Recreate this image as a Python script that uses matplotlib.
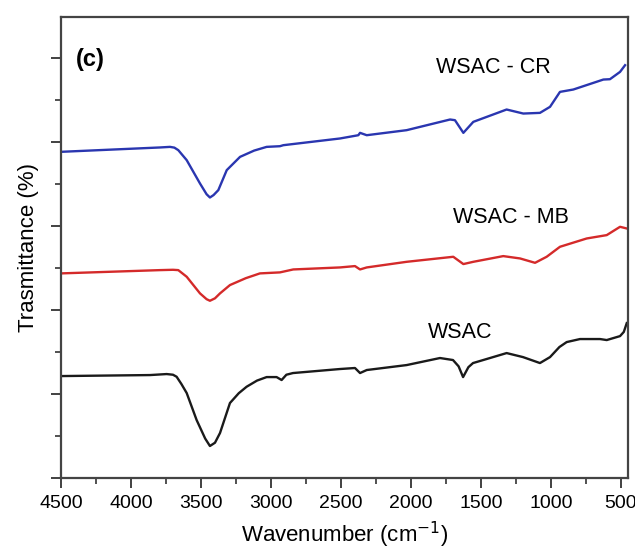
import numpy as np
import matplotlib.pyplot as plt
from matplotlib.ticker import MultipleLocator, NullFormatter

plt.rcParams['font.family'] = ['Liberation Sans', 'DejaVu Sans']

# spectra (wavenumber, offset transmittance)
wsac_w = [4500, 3864, 3745, 3700, 3674, 3640, 3602, 3531, 3470, 3436, 3400, 3364, 3293,
          3230, 3174, 3100, 3031, 2960, 2924, 2890, 2843, 2507, 2400, 2364, 2316, 2031,
          1793, 1700, 1660, 1628, 1590, 1557, 1460, 1317, 1200, 1079, 1007, 940, 888,
          793, 650, 602, 507, 480, 459]
wsac_t = [1.214, 1.226, 1.238, 1.230, 1.206, 1.120, 1.012, 0.690, 0.470, 0.381, 0.420, 0.536, 0.893,
          1.010, 1.087, 1.160, 1.202, 1.202, 1.167, 1.230, 1.250, 1.298, 1.310, 1.250, 1.286, 1.345,
          1.429, 1.405, 1.330, 1.202, 1.320, 1.369, 1.417, 1.488, 1.440, 1.369, 1.440, 1.560, 1.619,
          1.655, 1.655, 1.643, 1.690, 1.740, 1.845]

mb_w = [4500, 3793, 3700, 3662, 3602, 3507, 3460, 3436, 3400, 3364, 3293, 3180, 3079,
        2936, 2841, 2507, 2400, 2364, 2316, 2031, 1698, 1626, 1555, 1341, 1221, 1114,
        1031, 936, 745, 602, 507, 459]
mb_t = [2.437, 2.476, 2.480, 2.476, 2.397, 2.199, 2.130, 2.111, 2.140, 2.199, 2.298, 2.380, 2.437,
        2.449, 2.484, 2.508, 2.524, 2.484, 2.508, 2.575, 2.635, 2.548, 2.575, 2.643, 2.615, 2.563,
        2.635, 2.754, 2.853, 2.893, 2.992, 2.972]

cr_w = [4500, 3793, 3721, 3690, 3662, 3602, 3507, 3460, 3436, 3410, 3376, 3316, 3221,
        3120, 3031, 2936, 2912, 2507, 2376, 2364, 2316, 2031, 1721, 1686, 1626, 1555,
        1317, 1198, 1079, 1007, 936, 841, 626, 579, 507, 471]
cr_t = [3.885, 3.937, 3.944, 3.935, 3.905, 3.786, 3.508, 3.380, 3.341, 3.370, 3.429, 3.667, 3.825,
        3.900, 3.944, 3.952, 3.964, 4.044, 4.083, 4.111, 4.083, 4.143, 4.270, 4.262, 4.111, 4.242,
        4.389, 4.341, 4.349, 4.421, 4.599, 4.627, 4.746, 4.750, 4.837, 4.917]

fig = plt.figure(figsize=(6.35, 5.51), dpi=100)
ax = fig.add_axes([0.096, 0.1325, 0.893, 0.8365])

ax.plot(wsac_w, wsac_t, color='#1a1a1a', lw=1.7)
ax.plot(mb_w, mb_t, color='#d42a2a', lw=1.7)
ax.plot(cr_w, cr_t, color='#2a36b0', lw=1.7)

ax.set_xlim(4500, 450)
ax.set_ylim(0, 5.49)

ax.xaxis.set_major_locator(MultipleLocator(500))
ax.xaxis.set_minor_locator(MultipleLocator(250))
ax.yaxis.set_major_locator(MultipleLocator(1))
ax.yaxis.set_minor_locator(MultipleLocator(0.5))
ax.yaxis.set_major_formatter(NullFormatter())

ax.tick_params(axis='both', which='major', direction='out', length=7, width=1.3,
               color='#333333', labelsize=14, top=False, right=False)
ax.tick_params(axis='both', which='minor', direction='out', length=4, width=1.2,
               color='#333333', top=False, right=False)
ax.tick_params(axis='x', pad=5)

for sp in ax.spines.values():
    sp.set_linewidth(1.6)
    sp.set_color('#444444')

ax.set_xlabel('Wavenumber (cm$^{-1}$)', fontsize=16, labelpad=6)
ax.set_ylabel('Trasmittance (%)', fontsize=16, labelpad=5)

ax.text(0.027, 0.909, '(c)', transform=ax.transAxes, fontsize=17,
        fontweight='bold', va='center', ha='left')
ax.text(1414, 4.89, 'WSAC - CR', fontsize=15.5, ha='center', va='center')
ax.text(1286, 3.10, 'WSAC - MB', fontsize=15.5, ha='center', va='center')
ax.text(1650, 1.73, 'WSAC', fontsize=15.5, ha='center', va='center')

fig.savefig('out.png', dpi=100)
